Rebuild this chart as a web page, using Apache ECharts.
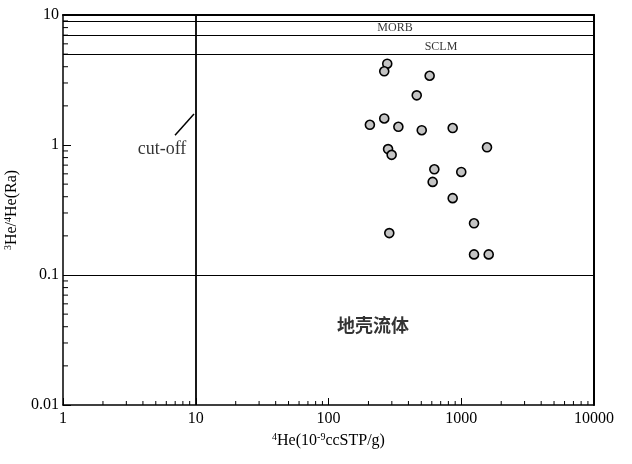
<!DOCTYPE html>
<html>
<head>
<meta charset="utf-8">
<script src="https://cdn.jsdelivr.net/npm/echarts@6/dist/echarts.min.js"></script>
<style>
  html, body { margin: 0; padding: 0; background: #fff; }
  #chart { width: 632px; height: 464px; }
</style>
</head>
<body>
<div id="chart"></div>
<script>
// He-4 content (10^-9 ccSTP/g) and 3He/4He (Ra) of the samples
const he4 = [277, 263, 578, 462, 263, 205, 336, 504, 862, 1563, 281, 299, 627, 1000, 609, 862, 1248, 287, 1248, 1610];
const ratio = [4.22, 3.69, 3.41, 2.41, 1.60, 1.43, 1.38, 1.30, 1.35, 0.96, 0.93, 0.84, 0.65, 0.62, 0.52, 0.39, 0.25, 0.21, 0.144, 0.144];

// reference levels
const bandLevels = [9, 7, 5];
const crustLevel = 0.1;
const cutOff = 10;

// axis ticks
const xDecades = [1, 10, 100, 1000];
const yDecades = [0.01, 0.1, 1];
const multipliers = [2, 3, 4, 5, 6, 7, 8, 9];

const serif = "'Liberation Serif', 'DejaVu Serif', serif";

const xMinor = [];
xDecades.forEach(d => multipliers.forEach(m => xMinor.push([d * m, 0.01])));
const yMinor = [];
yDecades.forEach(d => multipliers.forEach(m => yMinor.push([1, d * m])));

const chart = echarts.init(document.getElementById('chart'), null, { renderer: 'canvas' });

const textPoint = (x, y, text, font) => ({
  type: 'scatter', symbolSize: 0, silent: true, z: 5,
  data: [[x, y]],
  label: {
    show: true, position: 'inside', formatter: text,
    color: '#000', fontFamily: font.family, fontSize: font.size, fontWeight: font.weight || 'normal'
  },
  emphasis: { disabled: true }
});

chart.setOption({
  animation: false,
  backgroundColor: '#fff',
  grid: { left: 63, right: 38, top: 15, bottom: 59, outerBoundsMode: 'none', containLabel: false },
  xAxis: [{
    type: 'log', logBase: 10, min: 1, max: 10000,
    name: '{sup|4}He(10{sup|-9}ccSTP/g)',
    nameLocation: 'middle', nameGap: 26,
    nameTextStyle: {
      color: '#000', fontFamily: serif, fontSize: 16,
      rich: { sup: { fontSize: 10, verticalAlign: 'top', padding: [0, 0, 8, 0], fontFamily: serif } }
    },
    axisLine: { show: true, lineStyle: { color: '#000', width: 1.5 } },
    axisTick: { show: true, inside: true, length: 7, lineStyle: { color: '#000' } },
    minorTick: { show: false },
    axisLabel: { color: '#000', fontFamily: serif, fontSize: 16, margin: 6, formatter: v => String(v) },
    splitLine: { show: false }
  }, {
    type: 'log', logBase: 10, min: 1, max: 10000, position: 'top',
    axisLine: { show: true, lineStyle: { color: '#000', width: 2 } },
    axisTick: { show: false }, axisLabel: { show: false }, splitLine: { show: false }
  }],
  yAxis: [{
    type: 'log', logBase: 10, min: 0.01, max: 10,
    name: '{sup|3}He/{sup|4}He(Ra)',
    nameLocation: 'middle', nameGap: 33, nameRotate: 90,
    nameTextStyle: {
      color: '#000', fontFamily: serif, fontSize: 16,
      rich: { sup: { fontSize: 10, verticalAlign: 'top', padding: [0, 0, 8, 0], fontFamily: serif } }
    },
    axisLine: { show: true, lineStyle: { color: '#000', width: 1.5 } },
    axisTick: { show: true, inside: true, length: 8, lineStyle: { color: '#000' } },
    axisLabel: { color: '#000', fontFamily: serif, fontSize: 16, margin: 4, formatter: v => String(+v.toPrecision(3)) },
    splitLine: { show: false }
  }, {
    type: 'log', logBase: 10, min: 0.01, max: 10, position: 'right',
    axisLine: { show: true, lineStyle: { color: '#000', width: 2 } },
    axisTick: { show: false }, axisLabel: { show: false }, splitLine: { show: false }
  }],
  series: [
    {
      type: 'scatter', z: 4,
      symbol: 'circle', symbolSize: 9,
      itemStyle: { color: '#c4c4c4', borderColor: '#000', borderWidth: 1.6, opacity: 1 },
      data: he4.map((v, i) => [v, ratio[i]]),
      markLine: {
        silent: true, symbol: 'none', animation: false,
        label: { show: false },
        lineStyle: { color: '#000', type: 'solid', width: 1.2 },
        data: bandLevels.map(v => ({ yAxis: v }))
          .concat([{ yAxis: crustLevel }, { xAxis: cutOff, lineStyle: { width: 1.8 } }])
      }
    },
    {
      // minor ticks on the x axis
      type: 'custom', silent: true, z: 3,
      data: xMinor,
      renderItem: (params, api) => {
        const p = api.coord([api.value(0), api.value(1)]);
        return { type: 'line', shape: { x1: p[0], y1: p[1], x2: p[0], y2: p[1] - 4 }, style: { stroke: '#000', lineWidth: 1 } };
      }
    },
    {
      // minor ticks on the y axis
      type: 'custom', silent: true, z: 3,
      data: yMinor,
      renderItem: (params, api) => {
        const p = api.coord([api.value(0), api.value(1)]);
        return { type: 'line', shape: { x1: p[0], y1: p[1], x2: p[0] + 5, y2: p[1] }, style: { stroke: '#000', lineWidth: 1 } };
      }
    },
    {
      // cut-off pointer
      type: 'line', silent: true, symbol: 'none', z: 5,
      lineStyle: { color: '#000', width: 1.5 },
      data: [[6.98, 1.19], [9.7, 1.73]]
    },
    textPoint(5.57, 0.92, 'cut-off', { family: serif, size: 18 }),
    textPoint(317, 7.94, 'MORB', { family: serif, size: 12 }),
    textPoint(704, 5.68, 'SCLM', { family: serif, size: 12 }),
    textPoint(216, 0.041, '地壳流体', { family: "'Noto Sans CJK SC', sans-serif", size: 18, weight: 'bold' })
  ]
});
</script>
</body>
</html>
